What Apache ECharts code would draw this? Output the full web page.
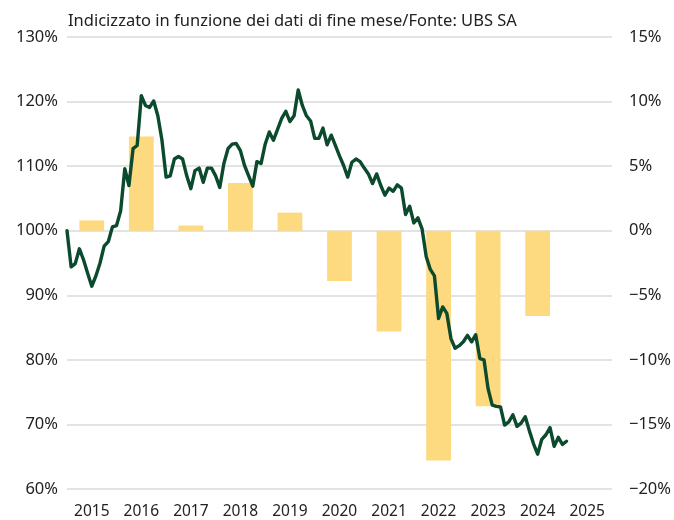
<!DOCTYPE html>
<html>
<head>
<meta charset="utf-8">
<script src="https://cdn.jsdelivr.net/npm/echarts@6/dist/echarts.min.js"></script>
<style>
html,body{margin:0;padding:0;background:#fff;}
#c{width:674px;height:520px;}
</style>
</head>
<body>
<div id="c"></div>
<script>
const titleText = 'Indicizzato in funzione dei dati di fine mese/Fonte: UBS SA';
const years = ['2015','2016','2017','2018','2019','2020','2021','2022','2023','2024','2025'];
// annual performance (%), right axis
const annualPerf = [0.8, 7.3, 0.4, 3.7, 1.4, -3.9, -7.8, -17.8, -13.6, -6.6, null];
// monthly indexed level (%), left axis, starting end of Dec 2014 = 100
const indexValues = [
 100, 94.4, 94.9, 97.2, 95.5, 93.4, 91.4, 93.0, 95.0, 97.6, 98.3, 100.6,
 100.8, 103.1, 109.6, 107.0, 112.7, 113.2, 120.9, 119.4, 119.1, 120.1, 117.8, 114.0,
 108.3, 108.5, 111.1, 111.5, 111.1, 108.5, 106.5, 109.3, 109.7, 107.5, 109.7, 109.7,
 108.5, 106.7, 110.4, 112.7, 113.4, 113.5, 112.4, 110.1, 108.5, 106.9, 110.7, 110.4,
 113.4, 115.3, 114.0, 115.7, 117.4, 118.5, 116.9, 117.8, 121.8, 119.4, 117.8, 117.0,
 114.3, 114.3, 115.9, 113.3, 114.8, 113.2, 111.6, 110.1, 108.3, 110.6, 111.1, 110.7,
 109.7, 108.8, 107.3, 108.8, 107.0, 105.5, 106.6, 106.1, 107.1, 106.6, 102.5, 103.8,
 101.2, 102.0, 100.3, 96.0, 94.0, 93.0, 86.4, 88.2, 87.2, 83.3, 81.8, 82.2,
 82.8, 83.8, 82.8, 83.9, 80.2, 80.0, 75.5, 73.0, 72.8, 72.7, 69.9, 70.4,
 71.5, 69.7, 70.2, 71.2, 69.0, 67.0, 65.4, 67.7, 68.4, 69.5, 66.6, 68.0,
 66.9, 67.4
];
const leftTicks = {min: 60, max: 130, interval: 10};
const rightTicks = {min: -20, max: 15, interval: 5};

const lineData = indexValues.map((v, i) => [i, v]);
const FONT = '"Noto Sans", sans-serif';
const TXT = '#222222';

const chart = echarts.init(document.getElementById('c'), null, {renderer: 'canvas'});
chart.setOption({
  animation: false,
  backgroundColor: '#fff',
  title: {
    text: titleText, left: 63, top: 8,
    textStyle: {fontFamily: FONT, fontSize: 16.5, fontWeight: 'normal', color: TXT}
  },
  grid: {left: 67, right: 61, top: 37, bottom: 30, containLabel: false},
  xAxis: [
    {
      type: 'category', data: years, boundaryGap: true,
      axisLine: {show: false}, axisTick: {show: false},
      axisLabel: {fontFamily: FONT, fontSize: 15.5, color: TXT, margin: 15}
    },
    {
      type: 'value', min: 0, max: years.length * 12, show: false
    }
  ],
  yAxis: [
    {
      type: 'value', position: 'left', min: leftTicks.min, max: leftTicks.max, interval: leftTicks.interval,
      axisLine: {show: false}, axisTick: {show: false},
      axisLabel: {formatter: '{value}%', fontFamily: FONT, fontSize: 16.5, color: TXT, margin: 9},
      splitLine: {show: true, lineStyle: {color: '#dadada', width: 1.5}}
    },
    {
      type: 'value', position: 'right', min: rightTicks.min, max: rightTicks.max, interval: rightTicks.interval,
      axisLine: {show: false}, axisTick: {show: false},
      axisLabel: {
        formatter: v => (v < 0 ? '\u2212' + Math.abs(v) : v) + '%',
        fontFamily: FONT, fontSize: 16.5, color: TXT, margin: 17
      },
      splitLine: {show: false}
    }
  ],
  series: [
    {
      type: 'bar', xAxisIndex: 0, yAxisIndex: 1, data: annualPerf,
      barWidth: '50%', itemStyle: {color: '#FDD97F'}, z: 2
    },
    {
      type: 'line', xAxisIndex: 1, yAxisIndex: 0, data: lineData,
      showSymbol: false, symbol: 'none',
      lineStyle: {color: '#0B4A2C', width: 3.4, join: 'round', cap: 'round'}, z: 3
    }
  ]
});
</script>
</body>
</html>
